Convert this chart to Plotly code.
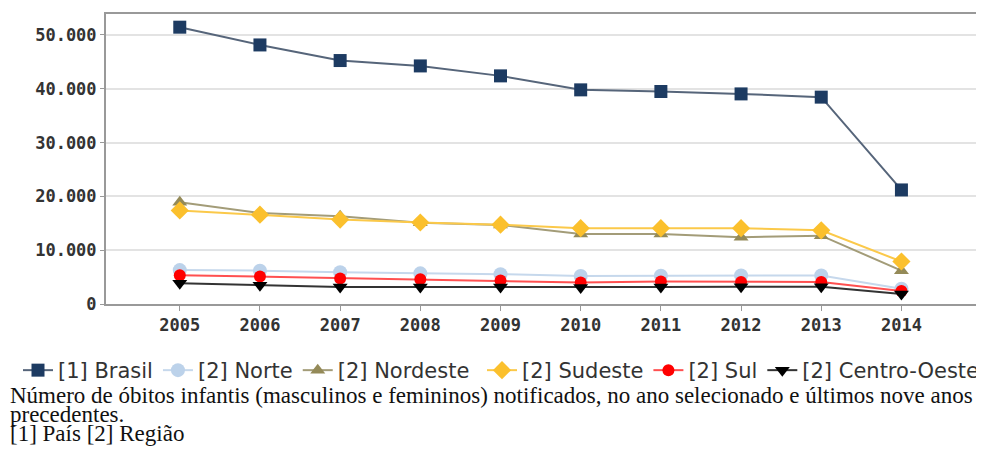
import plotly.graph_objects as go

anos = [2005, 2006, 2007, 2008, 2009, 2010, 2011, 2012, 2013, 2014]

brasil = [51450, 48150, 45250, 44250, 42400, 39800, 39500, 39050, 38450, 21200]
norte = [6300, 6200, 5900, 5700, 5550, 5200, 5250, 5300, 5300, 2850]
nordeste = [18900, 16900, 16300, 15100, 14700, 13000, 13000, 12400, 12700, 6200]
sudeste = [17400, 16600, 15700, 15150, 14750, 14100, 14100, 14100, 13700, 7900]
sul = [5350, 5100, 4750, 4600, 4350, 4000, 4200, 4100, 4100, 2400]
centro_oeste = [3850, 3500, 3150, 3150, 3150, 3050, 3150, 3200, 3200, 1850]

series = [
    ("[1] Brasil", brasil, "#1d3b62", "#56657a", "square", 13, "legend"),
    ("[2] Norte", norte, "#bcd2ea", "#c6d8ec", "circle", 14, "legend"),
    ("[2] Nordeste", nordeste, "#948a58", "#a39c78", "triangle-up", 13, "legend"),
    ("[2] Sudeste", sudeste, "#fbc02d", "#fbc94a", "diamond", 14, "legend2"),
    ("[2] Sul", sul, "#ff0000", "#ff5050", "circle", 12, "legend2"),
    ("[2] Centro-Oeste", centro_oeste, "#000000", "#333333", "triangle-down", 13, "legend2"),
]

fig = go.Figure()
for name, vals, mcol, lcol, sym, size, leg in series:
    fig.add_trace(go.Scatter(
        x=anos, y=vals, name=name, mode="lines+markers",
        line=dict(color=lcol, width=2),
        marker=dict(symbol=sym, size=size, color=mcol),
        legend=leg,
    ))

# page body has an 8px margin, so the figure is a bit smaller than the window
W, H = 976, 454
legend_style = dict(
    orientation="h", xref="container", yref="container",
    xanchor="left", y=1 - 342 / H, yanchor="top",
    font=dict(family="DejaVu Sans", size=21, color="#333333"),
    itemwidth=30, tracegroupgap=0, bgcolor="rgba(0,0,0,0)",
)
fig.update_layout(
    width=W, height=H,
    margin=dict(l=98, r=8, t=6, b=158, autoexpand=False),
    paper_bgcolor="white", plot_bgcolor="white",
    separators=",.",
    showlegend=True,
    legend=dict(legend_style, x=10 / W),
    legend2=dict(legend_style, x=474 / W),
    font=dict(family="DejaVu Sans Mono", color="#333333"),
)

fig.update_xaxes(
    type="linear", range=[2004.08, 2014.93],
    tickmode="array", tickvals=anos, ticktext=[str(a) for a in anos],
    showgrid=False, ticks="outside", ticklen=5, tickcolor="#999999",
    showline=True, linecolor="#999999", linewidth=2, mirror=True,
    tickfont=dict(family="DejaVu Sans Mono", size=17, color="#333333", weight="bold"),
    zeroline=False,
)
fig.update_yaxes(
    range=[0, 53900], tickvals=[0, 10000, 20000, 30000, 40000, 50000],
    tickformat=",d", showgrid=True, gridcolor="#e3e3e3", gridwidth=2,
    showline=True, linecolor="#999999", linewidth=2, mirror=True,
    ticks="outside", ticklen=4, tickcolor="#999999",
    tickfont=dict(family="DejaVu Sans Mono", size=17, color="#333333", weight="bold"),
    zeroline=False,
)

caption = [
    "Número de óbitos infantis (masculinos e femininos) notificados, no ano selecionado e últimos nove anos",
    "precedentes.",
    "[1] País [2] Região",
]
for i, txt in enumerate(caption):
    fig.add_annotation(
        text=txt, xref="paper", yref="paper", x=-98 / 870, xanchor="left",
        y=(296 - 387.5 - i * 19) / 290, yanchor="middle", showarrow=False,
        font=dict(family="Liberation Serif", size=23, color="#111111"),
    )

fig.write_html("out.html")
